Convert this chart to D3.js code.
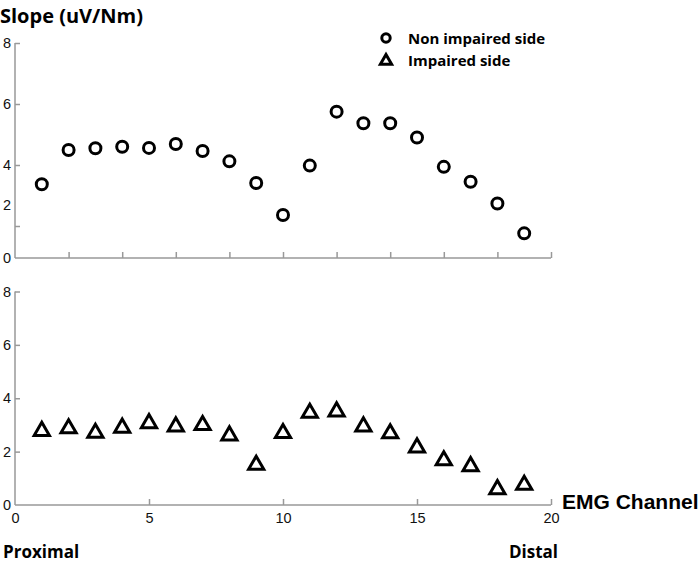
<!DOCTYPE html>
<html>
<head>
<meta charset="utf-8">
<script src="https://cdn.jsdelivr.net/npm/d3@7"></script>
<style>
  body { margin: 0; background: #fff; }
  svg { display: block; }
  .axis path, .axis line { stroke: #999; stroke-width: 1.5; }
  .lbl { font-family: "Open Sans", sans-serif; font-weight: bold; fill: #000; }
</style>
</head>
<body>
<svg width="700" height="563"></svg>
<script>
var channels = [1,2,3,4,5,6,7,8,9,10,11,12,13,14,15,16,17,18,19];
var nonImpaired = [3.37,4.49,4.55,4.60,4.56,4.69,4.46,4.12,3.41,2.36,3.98,5.75,5.37,5.37,4.90,3.94,3.45,2.74,1.54];
var impaired = [2.77,2.87,2.70,2.89,3.06,2.94,2.99,2.60,1.50,2.69,3.45,3.50,2.94,2.68,2.15,1.67,1.45,0.59,0.75];
var topYTicks = [0,2,4,6,8];
var bottomYTicks = [0,2,4,6,8];
var topXTicks = [2,4,6,8,10,12,14,16,18,20];
var bottomXTicks = [0,5,10,15,20];

var svg = d3.select("svg");

var x = d3.scaleLinear().domain([0, 20]).range([15, 551]);
// top panel: axis as drawn in the figure (compressed below 2)
var yTop = d3.scaleLinear().domain([0, 2, 8]).range([258, 226, 43]);
var yBot = d3.scaleLinear().domain([0, 8]).range([505, 291.5]);

function styleTicks(g) {
    g.attr("font-size", null).attr("font-family", null);
    g.selectAll(".tick text")
        .style("font-family", "Arial, 'Liberation Sans', sans-serif")
        .style("font-size", "14.5px")
        .attr("fill", "#111");
}

// top panel axes
var gxTop = svg.append("g").attr("class", "axis")
    .attr("transform", "translate(0," + yTop(0) + ")")
    .call(d3.axisTop(x).tickValues(topXTicks).tickSize(6).tickFormat(""));
gxTop.select(".domain").attr("d", "M" + x(0) + ",0H" + x(20));

var gyTop = svg.append("g").attr("class", "axis")
    .attr("transform", "translate(" + x(0) + ",0)")
    .call(d3.axisRight(yTop).tickValues(topYTicks).tickSize(5).tickFormat(d3.format("d")))
    .call(styleTicks);
gyTop.select(".domain").attr("d", "M0," + yTop(8) + "V" + yTop(0));
gyTop.selectAll(".tick text").attr("x", -4).attr("text-anchor", "end")
    .attr("dy", function(d) { return d === 2 ? "-1.15em" : "0.34em"; });
gyTop.selectAll(".tick").filter(function(d) { return d === 0; }).select("line").remove();

// bottom panel axes
var gxBot = svg.append("g").attr("class", "axis")
    .attr("transform", "translate(0," + yBot(0) + ")")
    .call(d3.axisBottom(x).tickValues(bottomXTicks).tickSize(0).tickPadding(8))
    .call(styleTicks);
gxBot.select(".domain").attr("d", "M" + x(0) + ",0H" + x(20));
gxBot.selectAll(".tick line").attr("y2", -6);
gxBot.selectAll(".tick").filter(function(d) { return d === 0; }).select("line").remove();

var gyBot = svg.append("g").attr("class", "axis")
    .attr("transform", "translate(" + x(0) + ",0)")
    .call(d3.axisRight(yBot).tickValues(bottomYTicks).tickSize(5).tickFormat(d3.format("d")))
    .call(styleTicks);
gyBot.select(".domain").attr("d", "M0," + yBot(8) + "V" + yBot(0));
gyBot.selectAll(".tick text").attr("x", -4).attr("text-anchor", "end");
gyBot.selectAll(".tick").filter(function(d) { return d === 0; }).select("line").remove();

// markers
var tri = d3.symbol().type(d3.symbolTriangle).size(100);

svg.append("g").selectAll("circle")
    .data(channels)
    .enter().append("circle")
    .attr("cx", function(d) { return x(d); })
    .attr("cy", function(d, i) { return yTop(nonImpaired[i]); })
    .attr("r", 5.5)
    .attr("fill", "#fff")
    .attr("stroke", "#000")
    .attr("stroke-width", 3);

svg.append("g").selectAll("path")
    .data(channels)
    .enter().append("path")
    .attr("d", tri)
    .attr("transform", function(d, i) { return "translate(" + x(d) + "," + yBot(impaired[i]) + ")"; })
    .attr("fill", "#fff")
    .attr("stroke", "#000")
    .attr("stroke-width", 3)
    .attr("stroke-linejoin", "miter");

// legend
svg.append("circle").attr("cx", 386).attr("cy", 38).attr("r", 4.2)
    .attr("fill", "#fff").attr("stroke", "#000").attr("stroke-width", 3);
svg.append("path").attr("d", d3.symbol().type(d3.symbolTriangle).size(55))
    .attr("transform", "translate(386,61)")
    .attr("fill", "#fff").attr("stroke", "#000").attr("stroke-width", 3);
svg.append("text").attr("class", "lbl").attr("x", 408).attr("y", 44)
    .style("font-size", "15px").text("Non impaired side");
svg.append("text").attr("class", "lbl").attr("x", 408).attr("y", 66)
    .style("font-size", "15px").text("Impaired side");

// titles
svg.append("text").attr("class", "lbl").attr("x", 0).attr("y", 23)
    .style("font-size", "20px").text("Slope (uV/Nm)");
svg.append("text").attr("x", 562).attr("y", 509)
    .style("font-family", "Arial, 'Liberation Sans', sans-serif").style("font-weight", "bold")
    .style("font-size", "21px").text("EMG Channel");
svg.append("text").attr("class", "lbl").attr("x", 3).attr("y", 558)
    .style("font-size", "17px").text("Proximal");
svg.append("text").attr("class", "lbl").attr("x", 558).attr("y", 558)
    .attr("text-anchor", "end").style("font-size", "17px").text("Distal");
</script>
</body>
</html>
